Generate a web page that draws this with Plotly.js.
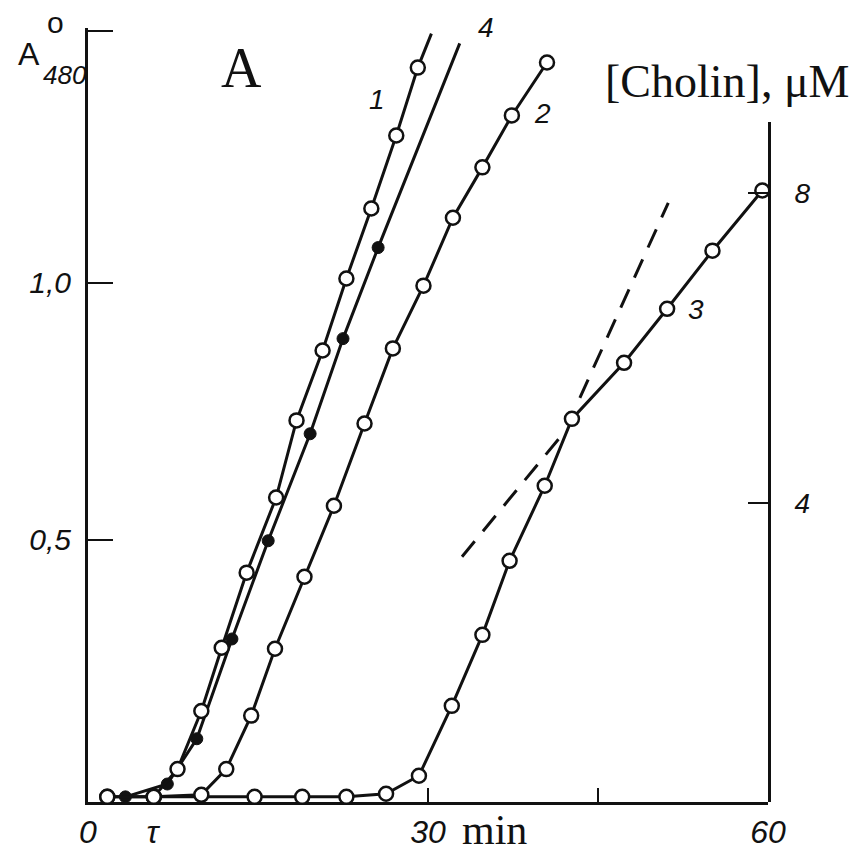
<!DOCTYPE html>
<html>
<head>
<meta charset="utf-8">
<script src="https://cdn.plot.ly/plotly-3.0.1.min.js"></script>
<style>html,body{margin:0;padding:0;background:#fff;}#chart{width:868px;height:853px;}</style>
</head>
<body>
<div id="chart"></div>
<script>
// time, min
const t1 = [1.7, 5.8, 7.9, 10.0, 11.8, 14.0, 16.6, 18.4, 20.7, 22.8, 25.0, 27.2, 29.1, 30.3];
const a1 = [0, 0, 0.054, 0.167, 0.290, 0.436, 0.582, 0.732, 0.868, 1.008, 1.144, 1.286, 1.418, 1.484];
const t4 = [3.3, 7.0, 9.6, 12.7, 15.9, 19.6, 22.5, 25.6, 32.8];
const a4 = [0, 0.025, 0.113, 0.307, 0.498, 0.706, 0.891, 1.068, 1.465];
const t2 = [5.8, 10.0, 12.2, 14.4, 16.5, 19.1, 21.7, 24.4, 26.9, 29.6, 32.2, 34.8, 37.4, 40.5];
const a2 = [0, 0.004, 0.054, 0.158, 0.288, 0.428, 0.566, 0.726, 0.872, 0.994, 1.126, 1.224, 1.325, 1.428];
const t3 = [1.7, 5.8, 14.7, 18.9, 22.8, 26.3, 29.2, 32.1, 34.8, 37.2, 40.3, 42.7, 47.3, 51.1, 55.1, 59.5];
const a3 = [0, 0, 0, 0, 0, 0.006, 0.041, 0.177, 0.315, 0.459, 0.605, 0.735, 0.844, 0.949, 1.062, 1.179];
// extrapolation (dashed) lines of curve 3
const tTan = [33.0, 42.2, null, 43.4, 51.2];
const aTan = [0.467, 0.714, null, 0.776, 1.155];
const xTickVals = [0, 5.7, 30, 45, 60];
const xTickText = ['0', 'τ', '30', '', '60'];
const yTickVals = [0.5, 1.0, 1.49];
const yTickText = ['0,5', '1,0', ''];
const y2TickVals = [4, 8];
const y2TickText = ['4', '8'];

const ink = '#111';
const lastHidden = (arr, s) => arr.map((_, i) => i === arr.length - 1 ? 0 : s);

const openM = (size) => ({symbol: 'circle', size: size, color: '#fff', opacity: 1, line: {color: ink, width: 2.5}});

const traces = [
  {x: [], y: [], xaxis: 'x', yaxis: 'y2', mode: 'markers', showlegend: false},
  {x: t3, y: a3, mode: 'lines+markers', line: {color: ink, width: 3}, marker: openM(14), cliponaxis: false},
  {x: tTan, y: aTan, mode: 'lines', connectgaps: false, line: {color: ink, width: 3, dash: '20px,13px'}},
  {x: t2, y: a2, mode: 'lines+markers', line: {color: ink, width: 3}, marker: openM(14), cliponaxis: false},
  {x: t4, y: a4, mode: 'lines+markers', line: {color: ink, width: 3}, marker: {symbol: 'circle', size: lastHidden(t4, 12), color: ink, opacity: 1, line: {color: ink, width: 1}}, cliponaxis: false},
  {x: t1, y: a1, mode: 'lines+markers', line: {color: ink, width: 3}, marker: openM(lastHidden(t1, 14)), cliponaxis: false}
];

const tickFont = {family: 'Liberation Sans, Arial, sans-serif', size: 30, color: ink, style: 'italic'};
const labFont = {family: 'Liberation Sans, Arial, sans-serif', size: 28, color: ink, style: 'italic'};
const serif = {family: 'Liberation Serif, Times New Roman, serif', size: 46, color: ink};
const P = {xref: 'paper', yref: 'paper', showarrow: false, xanchor: 'center', yanchor: 'middle'};

const layout = {
  width: 868, height: 853,
  margin: {l: 88, r: 100, t: 28, b: 51},
  paper_bgcolor: '#fff', plot_bgcolor: 'rgba(0,0,0,0)',
  showlegend: false,
  xaxis: {
    range: [0, 60], showgrid: false, zeroline: false,
    showline: true, linecolor: ink, linewidth: 3, layer: 'below traces',
    ticks: 'inside', ticklen: 14, tickwidth: 2, tickcolor: ink,
    tickmode: 'array', tickvals: xTickVals, ticktext: xTickText,
    tickfont: {family: 'Liberation Sans, Arial, sans-serif', size: 32, color: ink, style: 'italic'},
    ticklabelstandoff: 0
  },
  yaxis: {
    range: [-0.01, 1.495], showgrid: false, zeroline: false,
    showline: true, linecolor: ink, linewidth: 3, layer: 'below traces',
    ticks: 'inside', ticklen: 25, tickwidth: 2, tickcolor: ink,
    tickmode: 'array', tickvals: yTickVals, ticktext: yTickText,
    tickfont: tickFont, ticklabelstandoff: 8
  },
  yaxis2: {
    anchor: 'x', side: 'right', domain: [0, 0.8785],
    range: [0.147, 8.916], showgrid: false, zeroline: false,
    showline: true, linecolor: ink, linewidth: 3,
    ticks: 'inside', ticklen: 20, tickwidth: 2, tickcolor: ink,
    tickmode: 'array', tickvals: y2TickVals, ticktext: y2TickText,
    tickfont: labFont, ticklabelstandoff: 18
  },
  annotations: [
    Object.assign({x: 0.425, y: 0.907, text: '1', font: labFont}, P),
    Object.assign({x: 0.585, y: 1.001, text: '4', font: labFont}, P),
    Object.assign({x: 0.669, y: 0.889, text: '2', font: labFont}, P),
    Object.assign({x: 0.894, y: 0.636, text: '3', font: labFont}, P),
    Object.assign({x: 0.226, y: 0.948, text: 'A', font: {family: 'Liberation Serif, serif', size: 56, color: ink}}, P),
    Object.assign({x: 0.940, y: 0.931, text: '[Cholin], μM', font: serif}, P),
    Object.assign({x: 0.5985, y: -0.036, text: 'min', font: {family: 'Liberation Serif, Times New Roman, serif', size: 42, color: ink}}, P),
    Object.assign({x: -0.0868, y: 0.9664, text: 'A', font: {family: 'Liberation Sans, Arial, sans-serif', size: 32, color: ink}}, P),
    Object.assign({x: -0.0338, y: 0.9393, text: '480', font: {family: 'Liberation Sans Narrow, Liberation Sans, sans-serif', size: 26, color: ink, style: 'italic'}}, P),
    Object.assign({x: -0.0485, y: 1.0065, text: 'o', font: {family: 'Liberation Sans, Arial, sans-serif', size: 30, color: ink}}, P)
  ]
};

Plotly.newPlot('chart', traces, layout, {displayModeBar: false, staticPlot: true});
</script>
</body>
</html>
